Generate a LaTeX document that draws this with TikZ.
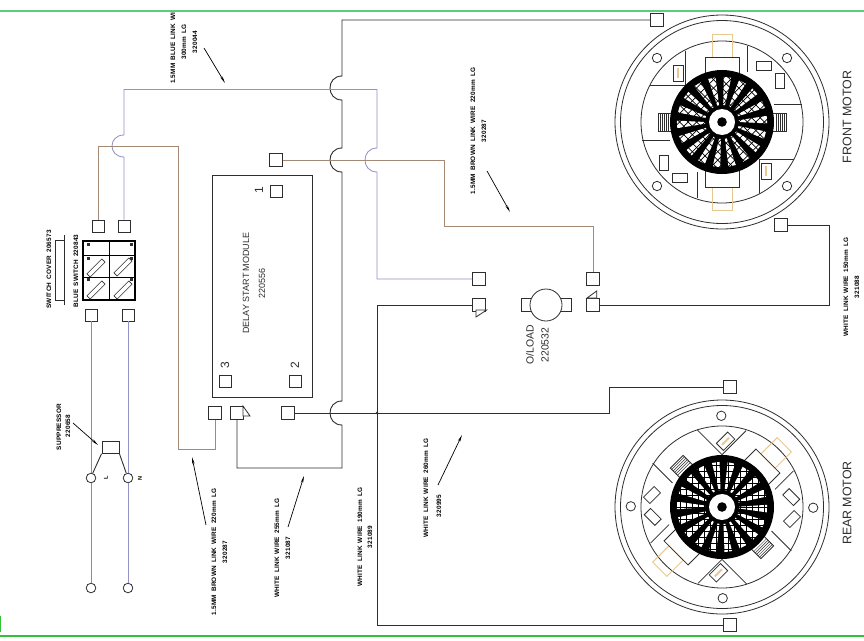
\documentclass[tikz,border=0pt]{standalone}
\usepackage{fontspec}
\usepackage{tikz}
\usepackage{xcolor}
\usetikzlibrary{arrows.meta}
\newfontfamily\cadfont{Liberation Sans}
\newfontfamily\cadtiny[LetterSpace=3,WordSpace=1.6]{Liberation Sans}
\definecolor{brownw}{HTML}{A48A76}
\definecolor{bluew}{HTML}{9292C6}
\definecolor{tanw}{HTML}{E8C890}
\definecolor{inkw}{HTML}{2E2E2E}
\definecolor{greenw}{HTML}{5CCB7C}
\tikzset{
	term/.style={draw=inkw, fill=white, rectangle, minimum size=13pt, line width=0.9pt},
	smallterm/.style={term, minimum size=12pt},
	ringterm/.style={draw=inkw, fill=white, circle, minimum size=9.6pt, line width=0.8pt},
	tag/.style={rotate=90, font=\cadtiny\bfseries\fontsize{6.4}{7}\selectfont},
	bigtag/.style={rotate=90, font=\cadfont\fontsize{9}{11}\selectfont, text=inkw},
	motortag/.style={rotate=90, font=\cadfont\fontsize{12.4}{14}\selectfont, text=inkw},
	wirek/.style={draw=inkw, line width=0.9pt},
	thinw/.style={draw=inkw, line width=0.8pt},
	wireb/.style={draw=brownw, line width=0.85pt},
	wireu/.style={draw=bluew, line width=0.85pt},
	leader/.style={draw=black, line width=0.7pt, -{Stealth[length=7pt,width=2.4pt]}}
}
\newcommand{\hop}[3]{-- (#1,#2) .. controls (#1-16,#2) and (#1-16,#3) .. (#1,#3)}
\newcommand{\motorbody}[3]{
	\begin{scope}[shift={(#1,#2)},rotate=#3]
		\draw [thinw] (0,0) circle (107);
		\draw [thinw] (0,0) circle (101.5);
		\draw [thinw] (0,0) circle (81);
		\foreach \sx/\sy in {65/64,-65/64,65/-64,-65/-64}
			\draw [thinw] (\sx,\sy) circle (4.7);
		\foreach \sg in {1,-1} {
			\begin{scope}[xscale=\sg,yscale=\sg]
				\draw [thinw] (-37,-71) -- (-37,-37) -- (-72,-37);
				\draw [thinw] (25,-76) -- (25,-50);
				\draw [thinw] (52,-18) -- (80,-18);
				\draw [tanw, line width=0.9pt] (-10,-88) rectangle (10,-65);
				\draw [thinw] (-17,-65) rectangle (17,-48);
				\draw [thinw] (-49,-57) rectangle (-39,-41);
				\fill [tanw] (-45,-54) rectangle (-43,-44);
				\draw [thinw] (34.5,-60.5) rectangle (49.5,-51.5);
				\draw [thinw] (53.5,-48.5) rectangle (62.5,-33.5);
				\draw [thinw] (-64,-9) rectangle (-50,9);
				\foreach \st in {-62,-60,-58,-56,-54}
					\draw [inkw, line width=0.5pt] (\st,-9) -- (\st,9);
			\end{scope}
		}
		\fill [black] (0,0) circle (52);
		\foreach \a in {0,...,17} {
			\fill [white, rotate=-7-20*\a] (-0.9,-17) -- (0.9,-17) -- (3.8,-45) -- (-3.8,-45) -- cycle;
		}
		\begin{scope}
			\clip (0,0) circle (50);
			\begin{scope}[rotate=45]
				\foreach \i in {-48,-42,...,48} {
					\draw [black, line width=0.7pt] (\i,-50) -- (\i,50);
					\draw [black, line width=0.7pt] (-50,\i) -- (50,\i);
				}
			\end{scope}
		\end{scope}
		\fill [black] (0,0) circle (16);
		\fill [white] (0,0) circle (13);
		\fill [black] (0,0) circle (4.8);
	\end{scope}
}
\begin{document}
\begin{tikzpicture}[x=1pt,y=-1pt]
		\tikzstyle{every node}+=[inner sep=0pt]
		\useasboundingbox (0,0) rectangle (864,640);
		\fill [white] (0,0) rectangle (864,640);
		\draw [greenw, line width=2pt] (0,11) -- (864,11);
		\draw [green!70!black!80, line width=1.2pt] (0,636) -- (864,636);
		\draw [green!70!black!80, line width=2.5pt] (0,616) -- (0,632);
		\motorbody{722}{122}{0}
		\motorbody{722}{507}{-45}
		\node [motortag] (lblfront) at (847,117) {FRONT MOTOR};
		\node [motortag] (lblrear) at (847,503) {REAR MOTOR};
		\draw [wirek] (212,175) rectangle (312,397);
		\node [bigtag] (lblmod) at (246,283) {DELAY START MODULE};
		\node [bigtag] (lblmodno) at (262,283) {220556};
		\node [smallterm] (modone) at (276,191) {};
		\node [smallterm] (modthree) at (225,381) {};
		\node [smallterm] (modtwo) at (295,381) {};
		\node [bigtag, font=\cadfont\fontsize{12}{14}\selectfont] (lblone) at (259,190) {1};
		\node [bigtag, font=\cadfont\fontsize{12}{14}\selectfont] (lblthree) at (225,365) {3};
		\node [bigtag, font=\cadfont\fontsize{12}{14}\selectfont] (lbltwo) at (295,365) {2};
		\node [term] (tfronttop) at (657,20) {};
		\node [term] (tfrontlow) at (781,225) {};
		\node [term] (trearup) at (730,387) {};
		\node [term] (trearlow) at (730,625) {};
		\node [term] (tbrownmod) at (276,160) {};
		\node [term] (tbrownin) at (215,413) {};
		\node [term] (tflagin) at (237,413) {};
		\node [term] (ttwo) at (288,413) {};
		\node [term] (tblueload) at (479,279) {};
		\node [term] (tflagload) at (479,305) {};
		\node [term] (tbrownload) at (593,279) {};
		\node [term] (tflagright) at (593,305) {};
		\node [smallterm] (tswa) at (98,226) {};
		\node [smallterm] (tswb) at (124,226) {};
		\node [smallterm] (tswc) at (91,315) {};
		\node [smallterm] (tswd) at (128,315) {};
		\node [ringterm] (rla) at (91,478) {};
		\node [ringterm] (rna) at (128,478) {};
		\node [ringterm] (rlb) at (91,588) {};
		\node [ringterm] (rnb) at (128,588) {};
		\draw [thinw, fill=white] (243,406) -- (250,416) -- (243,416) -- cycle;
		\draw [thinw, fill=white] (486.7,310) -- (476,317) -- (476,310) -- cycle;
		\draw [thinw, fill=white] (596.7,291) -- (587,298) -- (596.7,298) -- cycle;
		\draw [wirek] (tfronttop.west) -- (342,20) \hop{342}{76}{100} \hop{342}{148}{172} \hop{342}{401}{425} -- (342,468) -| (tflagin.south);
		\draw [wireu] (tswb.north) \hop{124}{157}{135} -- (124,89.5) -- (377,89.5) \hop{377}{148}{172} |- (tblueload.west);
		\draw [wireb] (tswa.north) |- (178,146) -- (178,449) -| (tbrownin.south);
		\draw [wireb] (tbrownmod.east) -- (444,160) -- (444,226) -| (tbrownload.north);
		\draw [wirek] (ttwo.east) -- (609,413) |- (trearup.west);
		\draw [wirek] (tflagload.west) -| (377,625) -- (trearlow.west);
		\draw [wirek] (tflagright.east) -| (829,225) -- (tfrontlow.east);
		\fill [inkw] (377,413) circle (1.3);
		\draw [wireb, line width=1pt] (tswc.south) -- (rla.north);
		\draw [wireb, line width=1pt] (rla.south) -- (rlb.north);
		\draw [wireu, line width=1pt] (tswd.south) -- (rna.north);
		\draw [wireu, line width=1pt] (rna.south) -- (rnb.north);
		\node [draw=inkw, fill=white, rectangle, minimum width=17pt, minimum height=11.5pt, line width=0.9pt] (supp) at (110.5,447.5) {};
		\draw [wirek] (supp.south west) -- (rla.70);
		\draw [wirek] (supp.south east) -- (rna.110);
		\node [tag, font=\cadtiny\bfseries\fontsize{5.6}{6}\selectfont] (lbll) at (106,478) {L};
		\node [tag, font=\cadtiny\bfseries\fontsize{5.6}{6}\selectfont] (lbln) at (140,478) {N};
		\node [draw=black, rectangle, minimum width=52pt, minimum height=59pt, line width=1.5pt] (swbox) at (109,270.5) {};
		\draw [black, line width=0.8pt] (swbox.north) -- (swbox.south);
		\draw [black, line width=0.8pt] (83,255) -- (135,255);
		\draw [black, line width=0.8pt] (83,277) -- (135,277);
		\foreach \sx/\sy in {96/268,123/267,96/290,123/290}
			\node [draw=inkw, rectangle, rotate=45, minimum width=21pt, minimum height=4.5pt, line width=0.6pt] at (\sx,\sy) {};
		\foreach \sx in {88,131}
			\foreach \sy in {244,258,279}
				\fill [inkw] (\sx-1.5,\sy-1.5) rectangle (\sx+1.5,\sy+1.5);
		\draw [thinw] (64,240) -- (55,240) -- (55,300) -- (64,300);
		\draw [thinw] (64,235) -- (64,305);
		\node [tag] (lblcover) at (49,269.5) {SWITCH COVER 206573};
		\node [tag] (lblswitch) at (76,271) {BLUE SWITCH 220843};
		\node [tag] (lblsupp) at (59,427) {SUPPRESSOR};
		\node [tag] (lblsuppno) at (68,426) {220658};
		\coordinate (asuppa) at (73,423);
		\coordinate (asuppb) at (98,445);
		\draw [leader] (asuppa) -- (asuppb);
		\node [tag, anchor=west] (lblbluea) at (173,84) {1.5MM BLUE LINK WI};
		\node [tag] (lblblueb) at (184,42) {300mm LG};
		\node [tag] (lblbluec) at (195,42) {320044};
		\coordinate (abluea) at (204,48);
		\coordinate (ablueb) at (225,83);
		\draw [leader] (abluea) -- (ablueb);
		\node [tag] (lblbrowna) at (473,131) {1.5MM BROWN LINK WIRE 220mm LG};
		\node [tag] (lblbrownb) at (484,131) {320287};
		\coordinate (abrowna) at (487,171);
		\coordinate (abrownb) at (510,212);
		\draw [leader] (abrowna) -- (abrownb);
		\node [tag] (lblloada) at (214,552) {1.5MM BROWN LINK WIRE 220mm LG};
		\node [tag] (lblloadb) at (225,552) {320287};
		\coordinate (aloada) at (206,525);
		\coordinate (aloadb) at (192,457);
		\draw [leader] (aloada) -- (aloadb);
		\node [tag] (lblwhitea) at (277,548) {WHITE LINK WIRE 255mm LG};
		\node [tag] (lblwhiteb) at (288,548) {321087};
		\coordinate (awhitea) at (288,527);
		\coordinate (awhiteb) at (304,476);
		\draw [leader] (awhitea) -- (awhiteb);
		\node [tag] (lblwhitec) at (360,537) {WHITE LINK WIRE 190mm LG};
		\node [tag] (lblwhited) at (370,537) {321089};
		\node [tag] (lblwhitee) at (426,488) {WHITE LINK WIRE 260mm LG};
		\node [tag] (lblwhitef) at (439,506) {320995};
		\coordinate (arearb) at (438,485);
		\coordinate (arearc) at (462,435);
		\draw [leader] (arearb) -- (arearc);
		\node [tag] (lblwhiteg) at (846,287) {WHITE LINK WIRE 150mm LG};
		\node [tag] (lblwhiteh) at (857,287) {321088};
		\node [draw=inkw, fill=white, rectangle, minimum width=50pt, minimum height=13pt, line width=0.8pt] (olrect) at (546,305) {};
		\node [draw=inkw, fill=white, circle, minimum size=32pt, line width=0.8pt] (oload) at (546,305) {};
		\node [bigtag, font=\cadfont\fontsize{10.4}{12}\selectfont] (lbloload) at (530,345) {O/LOAD};
		\node [bigtag, font=\cadfont\fontsize{10.4}{12}\selectfont] (lbloloadno) at (545,345) {220532};
		\end{tikzpicture}
\end{document}
